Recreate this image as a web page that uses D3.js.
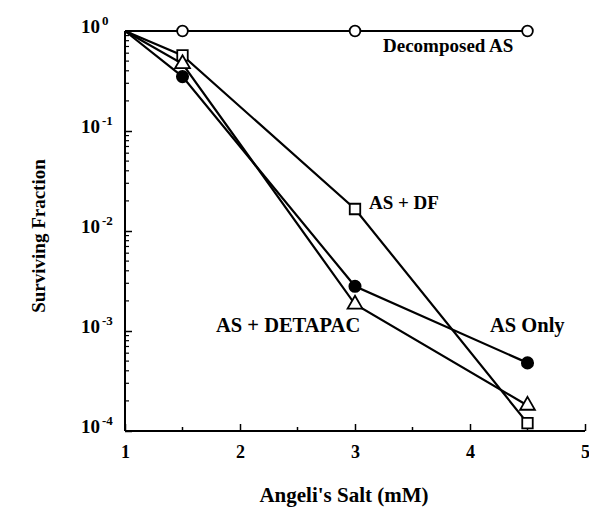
<!DOCTYPE html>
<html>
<head>
<meta charset="utf-8">
<script src="https://cdn.jsdelivr.net/npm/d3@7"></script>
<style>
  body { margin: 0; background: #fff; }
  text { font-family: "Liberation Serif", "Times New Roman", serif !important; font-weight: bold; fill: #000; }
</style>
</head>
<body>
<script>
// doses (mM) and surviving fractions
var doses = [1, 1.5, 3, 4.5];
var decomposedAS = [1, 1, 1, 1];
var asDF = [1, 0.57, 0.0166, 0.00012];
var asDetapac = [1, 0.47, 0.00185, 0.00018];
var asOnly = [1, 0.35, 0.0028, 0.00048];

var xTicks = [1, 2, 3, 4, 5];
var xMinor = [1.5, 2.5, 3.5, 4.5];
var yExps = [0, -1, -2, -3, -4];

var main = function() {
  var width = 589, height = 514;
  var margin = {top: 31, left: 125, right: 4, bottom: 83};

  var svg = d3.select("body").append("svg")
    .attr("width", width)
    .attr("height", height);

  var x = d3.scaleLinear().domain([1, 5]).range([margin.left, width - margin.right]);
  var y = d3.scaleLog().domain([1e-4, 1]).range([height - margin.bottom, margin.top]);

  // x axis
  var xAxis = svg.append("g")
    .attr("transform", "translate(0," + y(1e-4) + ")")
    .call(d3.axisBottom(x).tickValues(xTicks).tickSize(-7).tickPadding(14).tickFormat(d3.format("d")));
  xAxis.select(".domain").attr("stroke-width", 2).attr("d", "M" + x(1) + ",0H" + x(5));
  xAxis.selectAll(".tick line").attr("stroke-width", 1.5);
  xAxis.selectAll(".tick text").attr("font-size", 18);
  xAxis.selectAll(".minor").data(xMinor).enter().append("line")
    .attr("x1", function(d) { return x(d); }).attr("x2", function(d) { return x(d); })
    .attr("y1", 0).attr("y2", -4).attr("stroke", "#000").attr("stroke-width", 1.5);

  // y axis
  var minor = [];
  for (var e = -4; e < 0; e++) {
    for (var m = 2; m <= 9; m++) minor.push(m * Math.pow(10, e));
  }
  var yAxis = svg.append("g")
    .attr("transform", "translate(" + x(1) + ",0)")
    .call(d3.axisLeft(y).tickValues(yExps.map(function(p) { return Math.pow(10, p); })).tickSize(-7).tickFormat(""));
  yAxis.select(".domain").attr("stroke-width", 2).attr("d", "M0," + y(1) + "V" + y(1e-4));
  yAxis.selectAll(".tick line").attr("stroke-width", 1.5);
  yAxis.selectAll(".minor").data(minor).enter().append("line")
    .attr("y1", function(d) { return y(d); }).attr("y2", function(d) { return y(d); })
    .attr("x1", 0).attr("x2", 4).attr("stroke", "#000").attr("stroke-width", 1.2);

  var ylab = svg.append("g").selectAll("g").data(yExps).enter().append("g")
    .attr("transform", function(d) { return "translate(0," + y(Math.pow(10, d)) + ")"; });
  ylab.append("text").attr("x", 100).attr("y", 2).attr("text-anchor", "end")
    .attr("font-size", 19).text("10");
  ylab.append("text").attr("x", 102).attr("y", -6).attr("font-size", 13)
    .text(function(d) { return d === 0 ? "0" : "-" + (-d); });

  // axis titles
  svg.append("text").attr("x", 344).attr("y", 502).attr("text-anchor", "middle")
    .attr("font-size", 21).text("Angeli's Salt (mM)");
  svg.append("text").attr("transform", "translate(45,236) rotate(-90)").attr("text-anchor", "middle")
    .attr("font-size", 19).text("Surviving Fraction");

  var series = [
    {vals: decomposedAS, shape: "ocircle"},
    {vals: asDF, shape: "square"},
    {vals: asDetapac, shape: "triangle"},
    {vals: asOnly, shape: "fcircle"}
  ];

  var line = d3.line()
    .x(function(d) { return x(d[0]); })
    .y(function(d) { return y(d[1]); });

  series.forEach(function(s) {
    var pts = doses.map(function(d, i) { return [d, s.vals[i]]; });
    svg.append("path").datum(pts).attr("d", line)
      .attr("fill", "none").attr("stroke", "#000").attr("stroke-width", 2.2);
  });

  series.forEach(function(s) {
    var pts = doses.map(function(d, i) { return [d, s.vals[i]]; }).slice(1);
    var g = svg.append("g").selectAll("path").data(pts).enter().append("path")
      .attr("transform", function(d) { return "translate(" + x(d[0]) + "," + y(d[1]) + ")"; })
      .attr("stroke", "#000").attr("stroke-width", 1.8);
    if (s.shape === "ocircle") g.attr("d", d3.symbol(d3.symbolCircle, 90)).attr("fill", "#fff");
    if (s.shape === "fcircle") g.attr("d", d3.symbol(d3.symbolCircle, 100)).attr("fill", "#000");
    if (s.shape === "square") g.attr("d", d3.symbol(d3.symbolSquare, 110)).attr("fill", "#fff");
    if (s.shape === "triangle") g.attr("d", d3.symbol(d3.symbolTriangle, 95)).attr("fill", "#fff");
  });

  // series labels
  svg.append("text").attr("x", 383).attr("y", 52).attr("font-size", 19).text("Decomposed AS");
  svg.append("text").attr("x", 369).attr("y", 209).attr("font-size", 19).text("AS + DF");
  svg.append("text").attr("x", 216).attr("y", 332).attr("font-size", 20.5).text("AS + DETAPAC");
  svg.append("text").attr("x", 490).attr("y", 332).attr("font-size", 20.5).text("AS Only");
};

main();
</script>
</body>
</html>
